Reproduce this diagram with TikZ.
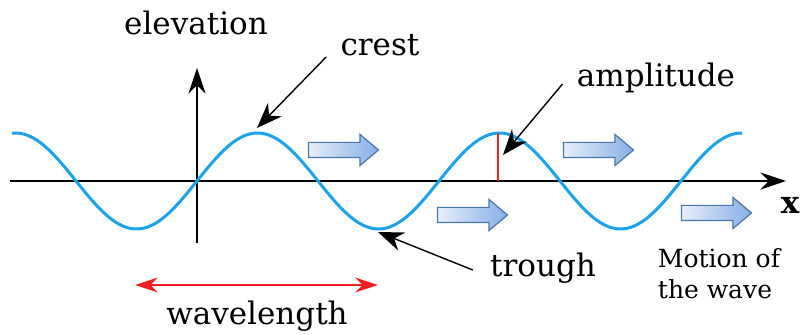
\documentclass[tikz,border=0pt]{standalone}
\usepackage{fontspec}
\setmainfont{DejaVu Serif}
\usetikzlibrary{shapes.arrows, arrows.meta, positioning, calc}
\definecolor{wavecyan}{HTML}{1AA3EA}
\definecolor{ampred}{HTML}{F02020}
\definecolor{arrowedge}{HTML}{4A76AC}
\definecolor{arrowlight}{HTML}{E6EEFA}
\definecolor{arrowdark}{HTML}{86AEE6}

\begin{document}
\begin{tikzpicture}[
    x=0.5pt, y=-0.5pt,
    lbl/.style={font=\fontsize{15.5}{18}\selectfont, inner sep=1pt},
    axis/.style={-{Stealth[length=4.5mm,width=3mm]}, line width=0.9pt},
    pointer/.style={-{Stealth[length=4.5mm,width=3.4mm]}, line width=0.7pt},
    wave/.style={wavecyan, line width=1.5pt},
    span/.style={{Stealth[length=4mm,width=2.6mm]}-{Stealth[length=4mm,width=2.6mm]}, ampred, line width=0.8pt},
    motion/.style={single arrow, draw=arrowedge, line width=0.6pt,
                   left color=arrowlight, right color=arrowdark,
                   minimum height=35pt, minimum width=15pt,
                   single arrow head extend=4pt, single arrow tip angle=80,
                   inner sep=0pt}
]
\useasboundingbox (0,0) rectangle (809,335);

% axes
\coordinate (xstart) at (10,181);
\coordinate (xend) at (786,181);
\coordinate (ystart) at (197,243);
\coordinate (yend) at (197,68);
\draw[axis] (xstart) -- (xend);
\draw[axis] (ystart) -- (yend);
\node[lbl, font=\fontsize{15.5}{18}\selectfont\bfseries] (xlab) at (790,205) {x};
\node[lbl] (elev) at (196,23) {elevation};

% the wave
\draw[wave] plot[domain=12:742, samples=240] (\x, {181 - 48*sin((\x-197)/242*360)});

% amplitude
\coordinate (peak) at (498,133);
\coordinate (base) at (498,181);
\draw[ampred, line width=0.8pt] (peak) -- (base);
\node[lbl] (amp) at (656,78) {amplitude};
\coordinate (ampfrom) at ($(amp.west)+(-12,6)$);
\coordinate (amppt) at (503,155);
\draw[pointer] (ampfrom) -- (amppt);

% crest and trough
\node[lbl] (crest) at (380,45) {crest};
\coordinate (crestfrom) at ($(crest.west)+(-12,12)$);
\coordinate (crestpt) at (257,128);
\draw[pointer] (crestfrom) -- (crestpt);
\node[lbl] (trough) at (543,268) {trough};
\coordinate (troughfrom) at ($(trough.west)+(-15,2)$);
\coordinate (troughpt) at (378,232);
\draw[pointer] (troughfrom) -- (troughpt);

% wavelength
\coordinate (wlleft) at (135,285);
\coordinate (wlright) at (378,285);
\draw[span] (wlleft) -- (wlright);
\node[lbl] (wl) at (257,316) {wavelength};

% motion of the wave
\node[motion] (m1) at (339,150) {\rule{0pt}{7pt}};
\node[motion] (m2) at (468,215) {\rule{0pt}{7pt}};
\node[motion] (m3) at (594,150) {\rule{0pt}{7pt}};
\node[motion] (m4) at (712,213) {\rule{0pt}{7pt}};
\node[lbl, font=\fontsize{12.5}{15.5}\selectfont, align=left] (motlab) at (719,274) {Motion of\\the wave};

\end{tikzpicture}
\end{document}
